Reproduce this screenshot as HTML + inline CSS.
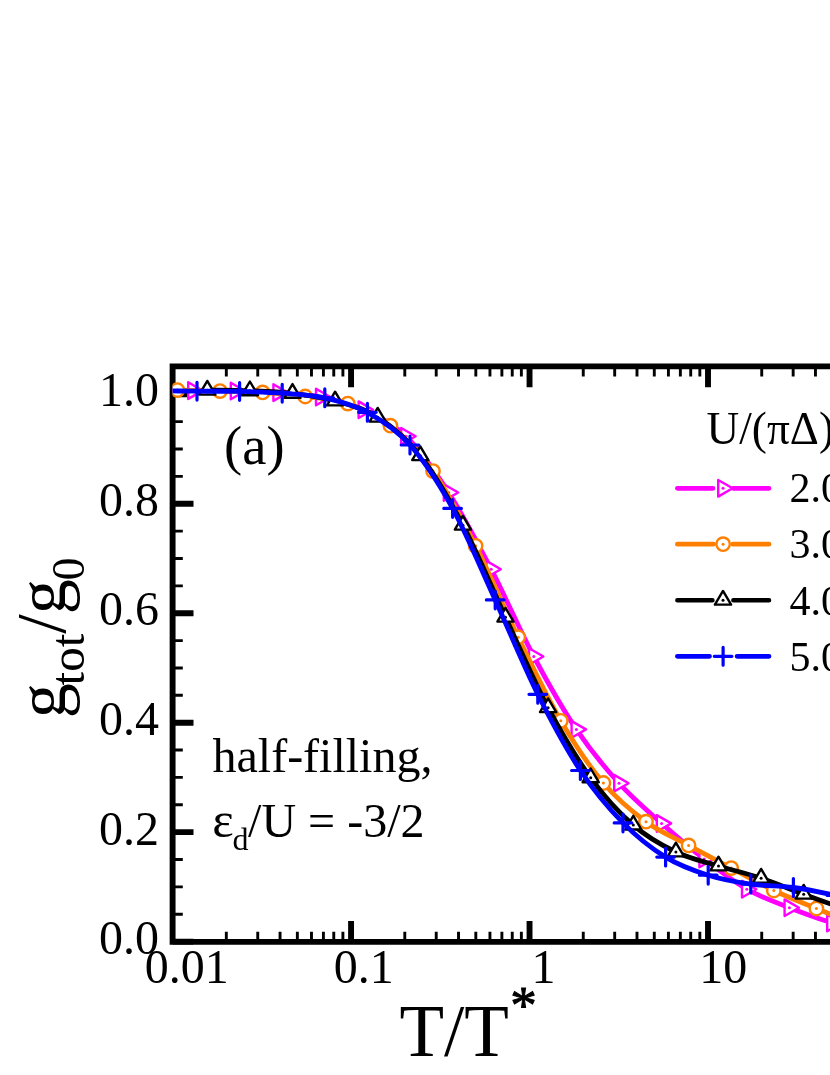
<!DOCTYPE html>
<html><head><meta charset="utf-8"><title>chart</title>
<style>html,body{margin:0;padding:0;background:#fff;}body{width:830px;height:1075px;overflow:hidden;}svg{display:block;will-change:transform;font-family:"Liberation Serif",serif;fill:#000;font-variant-ligatures:none;}</style></head><body>
<svg width="830" height="1075" viewBox="0 0 830 1075">
<rect x="0" y="0" width="830" height="1075" fill="#fff"/>
<g stroke="#000" fill="none" stroke-linecap="butt">
<path d="M840,366.4 H172.6 V941.85 H840" stroke-width="5.9" stroke-linejoin="miter"/>
<path d="M172.6,941.60h20.9M172.6,832.14h20.9M172.6,722.68h20.9M172.6,613.22h20.9M172.6,503.76h20.9M172.6,394.30h20.9M351.07,941.85v-20.9M351.07,366.4v20.9M529.54,941.85v-20.9M529.54,366.4v20.9M708.01,941.85v-20.9M708.01,366.4v20.9" stroke-width="5.9"/>
<path d="M172.6,914.24h10.2M172.6,886.87h10.2M172.6,859.50h10.2M172.6,804.78h10.2M172.6,777.41h10.2M172.6,750.05h10.2M172.6,695.32h10.2M172.6,667.95h10.2M172.6,640.59h10.2M172.6,585.86h10.2M172.6,558.49h10.2M172.6,531.12h10.2M172.6,476.40h10.2M172.6,449.03h10.2M172.6,421.67h10.2M172.6,366.94h10.2M226.32,941.85v-10.2M226.32,366.4v10.2M257.75,941.85v-10.2M257.75,366.4v10.2M280.05,941.85v-10.2M280.05,366.4v10.2M297.35,941.85v-10.2M297.35,366.4v10.2M311.48,941.85v-10.2M311.48,366.4v10.2M323.42,941.85v-10.2M323.42,366.4v10.2M333.77,941.85v-10.2M333.77,366.4v10.2M342.90,941.85v-10.2M342.90,366.4v10.2M404.79,941.85v-10.2M404.79,366.4v10.2M436.22,941.85v-10.2M436.22,366.4v10.2M458.52,941.85v-10.2M458.52,366.4v10.2M475.82,941.85v-10.2M475.82,366.4v10.2M489.95,941.85v-10.2M489.95,366.4v10.2M501.89,941.85v-10.2M501.89,366.4v10.2M512.24,941.85v-10.2M512.24,366.4v10.2M521.37,941.85v-10.2M521.37,366.4v10.2M583.26,941.85v-10.2M583.26,366.4v10.2M614.69,941.85v-10.2M614.69,366.4v10.2M636.99,941.85v-10.2M636.99,366.4v10.2M654.29,941.85v-10.2M654.29,366.4v10.2M668.42,941.85v-10.2M668.42,366.4v10.2M680.36,941.85v-10.2M680.36,366.4v10.2M690.71,941.85v-10.2M690.71,366.4v10.2M699.84,941.85v-10.2M699.84,366.4v10.2M761.73,941.85v-10.2M761.73,366.4v10.2M793.16,941.85v-10.2M793.16,366.4v10.2M815.46,941.85v-10.2M815.46,366.4v10.2M832.76,941.85v-10.2M832.76,366.4v10.2" stroke-width="2.9"/>
</g>
<defs><clipPath id="cp"><rect x="172.6" y="366.4" width="830" height="575.45"/></clipPath></defs>
<g clip-path="url(#cp)" fill="none" stroke-linecap="round" stroke-linejoin="round">
<path d="M150.00,390.40C157.17,390.43 178.73,390.50 193.00,390.60C207.27,390.70 221.40,390.67 235.60,391.00C249.80,391.33 264.00,391.60 278.20,392.60C292.40,393.60 306.60,394.15 320.80,397.00C335.00,399.85 349.20,403.15 363.40,409.70C377.60,416.25 391.80,422.50 406.00,436.30C420.20,450.10 434.40,470.35 448.60,492.50C462.80,514.65 477.00,541.87 491.20,569.20C505.40,596.53 519.60,629.80 533.80,656.50C548.00,683.20 562.20,708.28 576.40,729.40C590.60,750.52 604.80,767.53 619.00,783.20C633.20,798.87 647.40,810.77 661.60,823.40C675.80,836.03 690.00,848.03 704.20,859.00C718.40,869.97 732.60,881.08 746.80,889.20C761.00,897.32 775.20,902.07 789.40,907.70C803.60,913.33 817.80,918.28 832.00,923.00C846.20,927.72 867.50,933.83 874.60,936.00" stroke="#ff00ff" stroke-width="4.8"/>
<path d="M188.20,382.30L202.60,390.60L188.20,398.90Z" fill="#fff" stroke="#ff00ff" stroke-width="2.4" stroke-linejoin="round"/><circle cx="193.00" cy="390.60" r="1.5" fill="#ff00ff" stroke="none"/>
<path d="M230.80,382.70L245.20,391.00L230.80,399.30Z" fill="#fff" stroke="#ff00ff" stroke-width="2.4" stroke-linejoin="round"/><circle cx="235.60" cy="391.00" r="1.5" fill="#ff00ff" stroke="none"/>
<path d="M273.40,384.30L287.80,392.60L273.40,400.90Z" fill="#fff" stroke="#ff00ff" stroke-width="2.4" stroke-linejoin="round"/><circle cx="278.20" cy="392.60" r="1.5" fill="#ff00ff" stroke="none"/>
<path d="M316.00,388.70L330.40,397.00L316.00,405.30Z" fill="#fff" stroke="#ff00ff" stroke-width="2.4" stroke-linejoin="round"/><circle cx="320.80" cy="397.00" r="1.5" fill="#ff00ff" stroke="none"/>
<path d="M358.60,401.40L373.00,409.70L358.60,418.00Z" fill="#fff" stroke="#ff00ff" stroke-width="2.4" stroke-linejoin="round"/><circle cx="363.40" cy="409.70" r="1.5" fill="#ff00ff" stroke="none"/>
<path d="M401.20,428.00L415.60,436.30L401.20,444.60Z" fill="#fff" stroke="#ff00ff" stroke-width="2.4" stroke-linejoin="round"/><circle cx="406.00" cy="436.30" r="1.5" fill="#ff00ff" stroke="none"/>
<path d="M443.80,484.20L458.20,492.50L443.80,500.80Z" fill="#fff" stroke="#ff00ff" stroke-width="2.4" stroke-linejoin="round"/><circle cx="448.60" cy="492.50" r="1.5" fill="#ff00ff" stroke="none"/>
<path d="M486.40,560.90L500.80,569.20L486.40,577.50Z" fill="#fff" stroke="#ff00ff" stroke-width="2.4" stroke-linejoin="round"/><circle cx="491.20" cy="569.20" r="1.5" fill="#ff00ff" stroke="none"/>
<path d="M529.00,648.20L543.40,656.50L529.00,664.80Z" fill="#fff" stroke="#ff00ff" stroke-width="2.4" stroke-linejoin="round"/><circle cx="533.80" cy="656.50" r="1.5" fill="#ff00ff" stroke="none"/>
<path d="M571.60,721.10L586.00,729.40L571.60,737.70Z" fill="#fff" stroke="#ff00ff" stroke-width="2.4" stroke-linejoin="round"/><circle cx="576.40" cy="729.40" r="1.5" fill="#ff00ff" stroke="none"/>
<path d="M614.20,774.90L628.60,783.20L614.20,791.50Z" fill="#fff" stroke="#ff00ff" stroke-width="2.4" stroke-linejoin="round"/><circle cx="619.00" cy="783.20" r="1.5" fill="#ff00ff" stroke="none"/>
<path d="M656.80,815.10L671.20,823.40L656.80,831.70Z" fill="#fff" stroke="#ff00ff" stroke-width="2.4" stroke-linejoin="round"/><circle cx="661.60" cy="823.40" r="1.5" fill="#ff00ff" stroke="none"/>
<path d="M699.40,850.70L713.80,859.00L699.40,867.30Z" fill="#fff" stroke="#ff00ff" stroke-width="2.4" stroke-linejoin="round"/><circle cx="704.20" cy="859.00" r="1.5" fill="#ff00ff" stroke="none"/>
<path d="M742.00,880.90L756.40,889.20L742.00,897.50Z" fill="#fff" stroke="#ff00ff" stroke-width="2.4" stroke-linejoin="round"/><circle cx="746.80" cy="889.20" r="1.5" fill="#ff00ff" stroke="none"/>
<path d="M784.60,899.40L799.00,907.70L784.60,916.00Z" fill="#fff" stroke="#ff00ff" stroke-width="2.4" stroke-linejoin="round"/><circle cx="789.40" cy="907.70" r="1.5" fill="#ff00ff" stroke="none"/>
<path d="M827.20,914.70L841.60,923.00L827.20,931.30Z" fill="#fff" stroke="#ff00ff" stroke-width="2.4" stroke-linejoin="round"/><circle cx="832.00" cy="923.00" r="1.5" fill="#ff00ff" stroke="none"/>
<path d="M177.40,390.10C184.50,390.27 205.80,390.72 220.00,391.10C234.20,391.48 248.40,391.50 262.60,392.40C276.80,393.30 291.00,394.63 305.20,396.50C319.40,398.37 333.60,398.73 347.80,403.60C362.00,408.47 376.20,414.45 390.40,425.70C404.60,436.95 418.80,451.08 433.00,471.10C447.20,491.12 461.40,518.12 475.60,545.80C489.80,573.48 504.00,608.03 518.20,637.20C532.40,666.37 546.60,696.50 560.80,720.80C575.00,745.10 589.20,766.18 603.40,783.00C617.60,799.82 631.80,811.30 646.00,821.70C660.20,832.10 674.40,837.67 688.60,845.40C702.80,853.13 717.00,860.58 731.20,868.10C745.40,875.62 759.60,883.77 773.80,890.50C788.00,897.23 802.20,902.67 816.40,908.50C830.60,914.33 851.90,922.67 859.00,925.50" stroke="#ff8000" stroke-width="4.8"/>
<circle cx="177.40" cy="390.10" r="6.7" fill="#fff" stroke="#ff8000" stroke-width="2.4"/><circle cx="177.40" cy="390.10" r="1.5" fill="#ff8000" stroke="none"/>
<circle cx="220.00" cy="391.10" r="6.7" fill="#fff" stroke="#ff8000" stroke-width="2.4"/><circle cx="220.00" cy="391.10" r="1.5" fill="#ff8000" stroke="none"/>
<circle cx="262.60" cy="392.40" r="6.7" fill="#fff" stroke="#ff8000" stroke-width="2.4"/><circle cx="262.60" cy="392.40" r="1.5" fill="#ff8000" stroke="none"/>
<circle cx="305.20" cy="396.50" r="6.7" fill="#fff" stroke="#ff8000" stroke-width="2.4"/><circle cx="305.20" cy="396.50" r="1.5" fill="#ff8000" stroke="none"/>
<circle cx="347.80" cy="403.60" r="6.7" fill="#fff" stroke="#ff8000" stroke-width="2.4"/><circle cx="347.80" cy="403.60" r="1.5" fill="#ff8000" stroke="none"/>
<circle cx="390.40" cy="425.70" r="6.7" fill="#fff" stroke="#ff8000" stroke-width="2.4"/><circle cx="390.40" cy="425.70" r="1.5" fill="#ff8000" stroke="none"/>
<circle cx="433.00" cy="471.10" r="6.7" fill="#fff" stroke="#ff8000" stroke-width="2.4"/><circle cx="433.00" cy="471.10" r="1.5" fill="#ff8000" stroke="none"/>
<circle cx="475.60" cy="545.80" r="6.7" fill="#fff" stroke="#ff8000" stroke-width="2.4"/><circle cx="475.60" cy="545.80" r="1.5" fill="#ff8000" stroke="none"/>
<circle cx="518.20" cy="637.20" r="6.7" fill="#fff" stroke="#ff8000" stroke-width="2.4"/><circle cx="518.20" cy="637.20" r="1.5" fill="#ff8000" stroke="none"/>
<circle cx="560.80" cy="720.80" r="6.7" fill="#fff" stroke="#ff8000" stroke-width="2.4"/><circle cx="560.80" cy="720.80" r="1.5" fill="#ff8000" stroke="none"/>
<circle cx="603.40" cy="783.00" r="6.7" fill="#fff" stroke="#ff8000" stroke-width="2.4"/><circle cx="603.40" cy="783.00" r="1.5" fill="#ff8000" stroke="none"/>
<circle cx="646.00" cy="821.70" r="6.7" fill="#fff" stroke="#ff8000" stroke-width="2.4"/><circle cx="646.00" cy="821.70" r="1.5" fill="#ff8000" stroke="none"/>
<circle cx="688.60" cy="845.40" r="6.7" fill="#fff" stroke="#ff8000" stroke-width="2.4"/><circle cx="688.60" cy="845.40" r="1.5" fill="#ff8000" stroke="none"/>
<circle cx="731.20" cy="868.10" r="6.7" fill="#fff" stroke="#ff8000" stroke-width="2.4"/><circle cx="731.20" cy="868.10" r="1.5" fill="#ff8000" stroke="none"/>
<circle cx="773.80" cy="890.50" r="6.7" fill="#fff" stroke="#ff8000" stroke-width="2.4"/><circle cx="773.80" cy="890.50" r="1.5" fill="#ff8000" stroke="none"/>
<circle cx="816.40" cy="908.50" r="6.7" fill="#fff" stroke="#ff8000" stroke-width="2.4"/><circle cx="816.40" cy="908.50" r="1.5" fill="#ff8000" stroke="none"/>
<path d="M207.30,390.20C214.40,390.30 235.70,390.27 249.90,390.80C264.10,391.33 278.30,391.70 292.50,393.40C306.70,395.10 320.90,397.03 335.10,401.00C349.30,404.97 363.50,408.08 377.70,417.20C391.90,426.32 406.10,437.70 420.30,455.70C434.50,473.70 448.70,498.28 462.90,525.20C477.10,552.12 491.30,586.78 505.50,617.20C519.70,647.62 533.90,680.93 548.10,707.70C562.30,734.47 576.50,758.23 590.70,777.80C604.90,797.37 619.10,812.73 633.30,825.10C647.50,837.47 661.70,845.18 675.90,852.00C690.10,858.82 704.30,861.63 718.50,866.00C732.70,870.37 746.90,873.50 761.10,878.20C775.30,882.90 789.50,888.98 803.70,894.20C817.90,899.42 839.20,906.95 846.30,909.50" stroke="#000000" stroke-width="4.8"/>
<path d="M207.30,380.90L215.40,394.60L199.20,394.60Z" fill="#fff" stroke="#000000" stroke-width="2.4" stroke-linejoin="round"/><circle cx="207.30" cy="390.20" r="1.5" fill="#000000" stroke="none"/>
<path d="M249.90,381.50L258.00,395.20L241.80,395.20Z" fill="#fff" stroke="#000000" stroke-width="2.4" stroke-linejoin="round"/><circle cx="249.90" cy="390.80" r="1.5" fill="#000000" stroke="none"/>
<path d="M292.50,384.10L300.60,397.80L284.40,397.80Z" fill="#fff" stroke="#000000" stroke-width="2.4" stroke-linejoin="round"/><circle cx="292.50" cy="393.40" r="1.5" fill="#000000" stroke="none"/>
<path d="M335.10,391.70L343.20,405.40L327.00,405.40Z" fill="#fff" stroke="#000000" stroke-width="2.4" stroke-linejoin="round"/><circle cx="335.10" cy="401.00" r="1.5" fill="#000000" stroke="none"/>
<path d="M377.70,407.90L385.80,421.60L369.60,421.60Z" fill="#fff" stroke="#000000" stroke-width="2.4" stroke-linejoin="round"/><circle cx="377.70" cy="417.20" r="1.5" fill="#000000" stroke="none"/>
<path d="M420.30,446.40L428.40,460.10L412.20,460.10Z" fill="#fff" stroke="#000000" stroke-width="2.4" stroke-linejoin="round"/><circle cx="420.30" cy="455.70" r="1.5" fill="#000000" stroke="none"/>
<path d="M462.90,515.90L471.00,529.60L454.80,529.60Z" fill="#fff" stroke="#000000" stroke-width="2.4" stroke-linejoin="round"/><circle cx="462.90" cy="525.20" r="1.5" fill="#000000" stroke="none"/>
<path d="M505.50,607.90L513.60,621.60L497.40,621.60Z" fill="#fff" stroke="#000000" stroke-width="2.4" stroke-linejoin="round"/><circle cx="505.50" cy="617.20" r="1.5" fill="#000000" stroke="none"/>
<path d="M548.10,698.40L556.20,712.10L540.00,712.10Z" fill="#fff" stroke="#000000" stroke-width="2.4" stroke-linejoin="round"/><circle cx="548.10" cy="707.70" r="1.5" fill="#000000" stroke="none"/>
<path d="M590.70,768.50L598.80,782.20L582.60,782.20Z" fill="#fff" stroke="#000000" stroke-width="2.4" stroke-linejoin="round"/><circle cx="590.70" cy="777.80" r="1.5" fill="#000000" stroke="none"/>
<path d="M633.30,815.80L641.40,829.50L625.20,829.50Z" fill="#fff" stroke="#000000" stroke-width="2.4" stroke-linejoin="round"/><circle cx="633.30" cy="825.10" r="1.5" fill="#000000" stroke="none"/>
<path d="M675.90,842.70L684.00,856.40L667.80,856.40Z" fill="#fff" stroke="#000000" stroke-width="2.4" stroke-linejoin="round"/><circle cx="675.90" cy="852.00" r="1.5" fill="#000000" stroke="none"/>
<path d="M718.50,856.70L726.60,870.40L710.40,870.40Z" fill="#fff" stroke="#000000" stroke-width="2.4" stroke-linejoin="round"/><circle cx="718.50" cy="866.00" r="1.5" fill="#000000" stroke="none"/>
<path d="M761.10,868.90L769.20,882.60L753.00,882.60Z" fill="#fff" stroke="#000000" stroke-width="2.4" stroke-linejoin="round"/><circle cx="761.10" cy="878.20" r="1.5" fill="#000000" stroke="none"/>
<path d="M803.70,884.90L811.80,898.60L795.60,898.60Z" fill="#fff" stroke="#000000" stroke-width="2.4" stroke-linejoin="round"/><circle cx="803.70" cy="894.20" r="1.5" fill="#000000" stroke="none"/>
<path d="M150.00,390.60C157.83,390.70 182.07,391.07 197.00,391.20C211.93,391.33 225.40,391.07 239.60,391.40C253.80,391.73 268.00,392.13 282.20,393.20C296.40,394.27 310.60,394.62 324.80,397.80C339.00,400.98 353.20,404.43 367.40,412.30C381.60,420.17 395.80,428.98 410.00,445.00C424.20,461.02 438.40,482.58 452.60,508.40C466.80,534.22 481.00,568.92 495.20,599.90C509.40,630.88 523.60,665.87 537.80,694.30C552.00,722.73 566.20,749.07 580.40,770.50C594.60,791.93 608.80,808.47 623.00,822.90C637.20,837.33 651.40,848.38 665.60,857.10C679.80,865.82 694.00,870.70 708.20,875.20C722.40,879.70 736.60,882.05 750.80,884.10C765.00,886.15 779.20,885.60 793.40,887.50C807.60,889.40 821.80,892.42 836.00,895.50C850.20,898.58 871.50,904.25 878.60,906.00" stroke="#0000ff" stroke-width="4.8"/>
<path d="M188.20,391.20h17.6M197.00,382.30v17.8" fill="none" stroke="#0000ff" stroke-width="3.2" stroke-linecap="round"/>
<path d="M230.80,391.40h17.6M239.60,382.50v17.8" fill="none" stroke="#0000ff" stroke-width="3.2" stroke-linecap="round"/>
<path d="M273.40,393.20h17.6M282.20,384.30v17.8" fill="none" stroke="#0000ff" stroke-width="3.2" stroke-linecap="round"/>
<path d="M316.00,397.80h17.6M324.80,388.90v17.8" fill="none" stroke="#0000ff" stroke-width="3.2" stroke-linecap="round"/>
<path d="M358.60,412.30h17.6M367.40,403.40v17.8" fill="none" stroke="#0000ff" stroke-width="3.2" stroke-linecap="round"/>
<path d="M401.20,445.00h17.6M410.00,436.10v17.8" fill="none" stroke="#0000ff" stroke-width="3.2" stroke-linecap="round"/>
<path d="M443.80,508.40h17.6M452.60,499.50v17.8" fill="none" stroke="#0000ff" stroke-width="3.2" stroke-linecap="round"/>
<path d="M486.40,599.90h17.6M495.20,591.00v17.8" fill="none" stroke="#0000ff" stroke-width="3.2" stroke-linecap="round"/>
<path d="M529.00,694.30h17.6M537.80,685.40v17.8" fill="none" stroke="#0000ff" stroke-width="3.2" stroke-linecap="round"/>
<path d="M571.60,770.50h17.6M580.40,761.60v17.8" fill="none" stroke="#0000ff" stroke-width="3.2" stroke-linecap="round"/>
<path d="M614.20,822.90h17.6M623.00,814.00v17.8" fill="none" stroke="#0000ff" stroke-width="3.2" stroke-linecap="round"/>
<path d="M656.80,857.10h17.6M665.60,848.20v17.8" fill="none" stroke="#0000ff" stroke-width="3.2" stroke-linecap="round"/>
<path d="M699.40,875.20h17.6M708.20,866.30v17.8" fill="none" stroke="#0000ff" stroke-width="3.2" stroke-linecap="round"/>
<path d="M742.00,884.10h17.6M750.80,875.20v17.8" fill="none" stroke="#0000ff" stroke-width="3.2" stroke-linecap="round"/>
<path d="M784.60,887.50h17.6M793.40,878.60v17.8" fill="none" stroke="#0000ff" stroke-width="3.2" stroke-linecap="round"/>
<path d="M827.20,895.50h17.6M836.00,886.60v17.8" fill="none" stroke="#0000ff" stroke-width="3.2" stroke-linecap="round"/>
</g>
<g fill="none" stroke-linecap="round">
<path d="M677.4,488.3H713.0M733.2,488.3H769" stroke="#ff00ff" stroke-width="4.8"/>
<path d="M677.4,544.2H713.5M732.8,544.2H769" stroke="#ff8000" stroke-width="4.8"/>
<path d="M677.4,600.25H712.4M733.4,600.25H769" stroke="#000000" stroke-width="4.6"/>
<path d="M677.4,656.35H709.5M737.1,656.35H769" stroke="#0000ff" stroke-width="4.8"/>
<path d="M718.20,480.00L732.60,488.30L718.20,496.60Z" fill="#fff" stroke="#ff00ff" stroke-width="2.4" stroke-linejoin="round"/><circle cx="723.00" cy="488.30" r="1.5" fill="#ff00ff" stroke="none"/>
<circle cx="723.10" cy="544.20" r="6.7" fill="#fff" stroke="#ff8000" stroke-width="2.4"/><circle cx="723.10" cy="544.20" r="1.5" fill="#ff8000" stroke="none"/>
<path d="M723.00,590.95L731.10,604.65L714.90,604.65Z" fill="#fff" stroke="#000000" stroke-width="2.4" stroke-linejoin="round"/><circle cx="723.00" cy="600.25" r="1.5" fill="#000000" stroke="none"/>
<path d="M714.30,656.35h17.6M723.10,647.45v17.8" fill="none" stroke="#0000ff" stroke-width="3.2" stroke-linecap="round"/>
</g>
<text transform="translate(158.9,406.0) scale(0.97,1)" font-size="49.5px" text-anchor="end" >1.0</text>
<text transform="translate(158.9,515.6) scale(0.97,1)" font-size="49.5px" text-anchor="end" >0.8</text>
<text transform="translate(158.9,625.3) scale(0.97,1)" font-size="49.5px" text-anchor="end" >0.6</text>
<text transform="translate(158.9,734.9) scale(0.97,1)" font-size="49.5px" text-anchor="end" >0.4</text>
<text transform="translate(158.9,844.6) scale(0.97,1)" font-size="49.5px" text-anchor="end" >0.2</text>
<text transform="translate(158.9,954.2) scale(0.97,1)" font-size="49.5px" text-anchor="end" >0.0</text>
<text transform="translate(228.7,982.5) scale(0.97,1)" font-size="49.5px" text-anchor="end" >0.01</text>
<text transform="translate(393.8,982.5) scale(0.97,1)" font-size="49.5px" text-anchor="end" >0.1</text>
<text transform="translate(555.4,982.5) scale(0.97,1)" font-size="49.5px" text-anchor="end" >1</text>
<text transform="translate(747.2,982.5) scale(0.97,1)" font-size="49.5px" text-anchor="end" >10</text>
<text transform="translate(212.5,771.5) scale(1.0,1)" font-size="48px" text-anchor="start" >half-filling,</text>
<text transform="translate(212.3,837.3) scale(1.0,1)" font-size="48px" text-anchor="start" ><tspan font-size="51px">ε</tspan><tspan font-size="32px" dy="13" dx="-1.3">d</tspan><tspan dy="-13" dx="-0.3">/U = -3/2</tspan></text>
<text transform="translate(706.6,443.7) scale(0.995,1)" font-size="45.5px" text-anchor="start" >U/(πΔ)</text>
<text transform="translate(789.5,502.2) scale(1.0,1)" font-size="42px" text-anchor="start" >2.0</text>
<text transform="translate(789.5,558.3) scale(1.0,1)" font-size="42px" text-anchor="start" >3.0</text>
<text transform="translate(789.5,614.5) scale(1.0,1)" font-size="42px" text-anchor="start" >4.0</text>
<text transform="translate(789.5,670.9) scale(1.0,1)" font-size="42px" text-anchor="start" >5.0</text>
<text transform="translate(224.1,464.1) scale(1.0,1)" font-size="54.5px" text-anchor="start" >(a)</text>
<text transform="translate(399.5,1056) scale(1.0,1)" font-size="73px" text-anchor="start" >T/T<tspan font-size="53px" dy="-33.4" dx="1.3" stroke="#000" stroke-width="1">*</tspan></text>
<text transform="translate(64.6,718.2) rotate(-90)" font-size="70px">g<tspan font-size="49px" dy="19" dx="-2.2">tot</tspan><tspan dy="-19">/g</tspan><tspan font-size="46px" dy="19" dx="-1.2">0</tspan></text>
</svg></body></html>
